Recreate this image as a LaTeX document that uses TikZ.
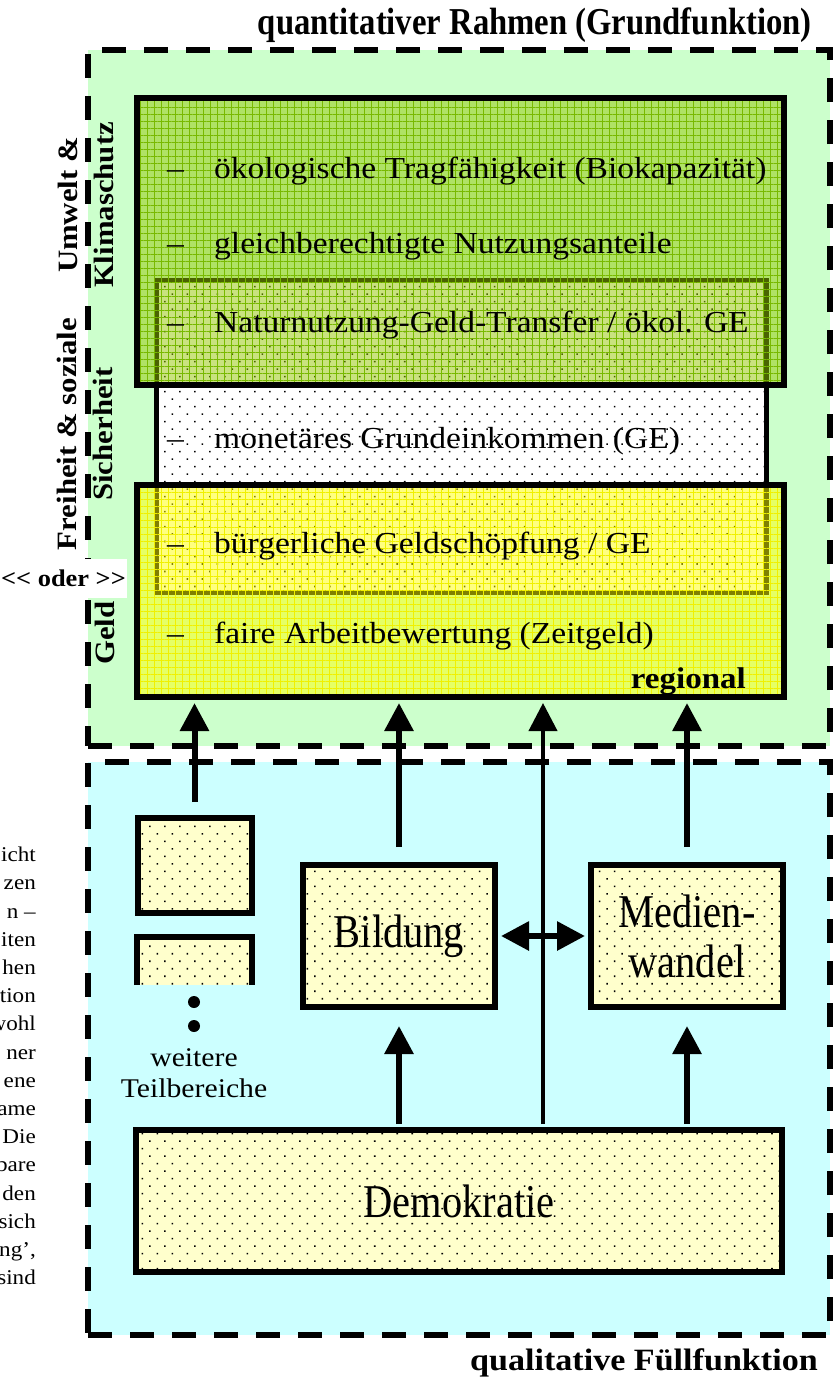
\documentclass[tikz,border=0pt]{standalone}
\usepackage{fontspec}
\setmainfont{Liberation Serif}[FakeStretch=1.1]
\newfontfamily\narrowfont{Liberation Serif}[FakeStretch=0.86]
\usepackage{tikz}
\usetikzlibrary{
	arrows.meta,
	patterns.meta,
	positioning
}
\definecolor{ZoneGreen}{RGB}{204,255,204}
\definecolor{ZoneCyan}{RGB}{204,255,255}
\definecolor{EcoGreen}{RGB}{148,198,0}
\definecolor{EcoGrid}{RGB}{120,185,0}
\definecolor{MoneyYellow}{RGB}{255,255,0}
\definecolor{MoneyGrid}{RGB}{240,240,0}
\definecolor{Cream}{RGB}{255,255,204}
\newcommand\bigtext{\narrowfont\fontsize{47}{50}\selectfont}

\begin{document}
\begin{tikzpicture}[x=1pt, y=-1pt,
		zone/.style={draw, line width=6pt, dash pattern=on 24pt off 18pt, inner sep=0pt},
		ecobox/.style={draw, line width=6pt, inner sep=0pt, fill opacity=0.5,
			preaction={fill=EcoGreen, fill opacity=0.5},
			pattern={Hatch[distance=7pt, line width=0.8pt]}, pattern color=EcoGrid},
		moneybox/.style={draw, line width=6pt, inner sep=0pt, fill opacity=0.5,
			preaction={fill=MoneyYellow, fill opacity=0.5},
			pattern={Hatch[distance=7pt, line width=0.8pt]}, pattern color=MoneyGrid},
		gebox/.style={draw, line width=5pt, inner sep=0pt, preaction={fill=white},
			pattern={Dots[distance=10.6pt, angle=45, radius=1.1pt]}, pattern color=black},
		partfill/.style={inner sep=0pt, preaction={fill=Cream},
			pattern={Dots[distance=10.6pt, angle=45, radius=1.1pt]}, pattern color=black},
		partbox/.style={partfill, draw, line width=6pt},
		item/.style={anchor=base west, inner sep=0pt, font=\fontsize{30.5}{34}\selectfont},
		sidelabel/.style={rotate=90, align=center, inner sep=0pt, font=\bfseries\fontsize{28}{36}\selectfont},
		uparrow/.style={line width=6pt, -{Triangle[length=28pt, width=28pt]}},
		biarrow/.style={line width=6pt, {Triangle[length=28pt, width=28pt]}-{Triangle[length=28pt, width=28pt]}}
	]
	\useasboundingbox (0,0) rectangle (840,1381);
	
	% the two zones
	\node[zone, fill=ZoneGreen, minimum width=742pt, minimum height=696pt] (rahmen) at (459,398) {};
	\node[zone, fill=ZoneCyan, minimum width=742pt, minimum height=573pt] (fuell) at (459,1048.5) {};
	\node[anchor=east, inner sep=0pt, font=\narrowfont\bfseries\fontsize{38}{44}\selectfont] (rahmen title) at (812,25) {quantitativer Rahmen (Grundfunktion)};
	\node[anchor=east, inner sep=0pt, font=\bfseries\fontsize{31}{36}\selectfont] (fuell title) at (818,1363) {qualitative Füllfunktion};
	
	% quantitative part
	\node[gebox, minimum width=610pt, minimum height=312pt] (ge) at (461,436.5) {};
	\node[ecobox, minimum width=647pt, minimum height=287pt] (eco) at (460.5,241.5) {};
	\node[moneybox, minimum width=647pt, minimum height=212pt] (money) at (460.5,591) {};
	\foreach \y/\txt [count=\i] in {178/{ökologische Tragfähigkeit (Biokapazität)},
		253/{gleichberechtigte Nutzungsanteile},
		332/{Naturnutzung-Geld-Transfer / ökol. GE},
		448/{monetäres Grundeinkommen (GE)},
		553/{bürgerliche Geldschöpfung / GE},
		643/{faire Arbeitbewertung (Zeitgeld)}}
		\node[item] (item\i) at (167,\y) {\makebox[47pt][l]{–}\txt};
	\node[anchor=base east, inner sep=0pt, font=\bfseries\fontsize{30}{34}\selectfont] (regional) at (746,688) {regional};
	
	\node[sidelabel] (eco label) at (86,205) {Umwelt \&\\Klimaschutz};
	\node[sidelabel] (social label) at (85,434) {Freiheit \& soziale\\Sicherheit};
	\node[sidelabel] (money label) at (105,633) {Geld};
	\node[fill=white, inner sep=0pt, minimum width=127pt, minimum height=39pt,
		font=\bfseries\fontsize{24}{28}\selectfont] (oder) at (63.5,578) {<\kern0pt< oder >\kern0pt>};
	
	% qualitative part
	\node[partbox, minimum width=114pt, minimum height=95pt] (teil1) at (194.5,865.5) {};
	\node[partfill, minimum width=114pt, minimum height=48pt] (teil2) at (194.5,961) {};
	\draw[line width=6pt] (teil2.south west) -- (teil2.north west) -- (teil2.north east) -- (teil2.south east);
	\node[circle, fill, inner sep=0pt, minimum size=12pt] (dot1) at (194,1002) {};
	\node[circle, fill, inner sep=0pt, minimum size=12pt] (dot2) at (194,1026) {};
	\node[align=center, inner sep=0pt, font=\fontsize{27}{31}\selectfont] (weitere) at (194,1073) {weitere\\Teilbereiche};
	
	\node[partbox, minimum width=192pt, minimum height=142pt, font=\bigtext] (bildung) at (399,936) {Bildung};
	\node[partbox, minimum width=192pt, minimum height=142pt, align=center, font=\bigtext] (medien) at (687,936) {Medien-\\wandel};
	\node[partbox, minimum width=646pt, minimum height=142pt, font=\bigtext] (demo) at (459,1201) {Demokratie};
	
	\node[anchor=north east, align=right, inner sep=0pt, font=\fontsize{21}{28.2}\selectfont] (fragment) at (36,847)
		{icht\\zen\\n –\\iten\\hen\\tion\\wohl\\ner\\ene\\ame\\Die\\bare\\den\\sich\\ng',\\sind};
	
	% arrows
	\coordinate (axis) at (543,0);
	\draw[uparrow, shorten <=13pt, shorten >=3pt] (teil1.north) -- (teil1.north |- money.south);
	\draw[uparrow, shorten <=15pt, shorten >=3pt] (bildung.north) -- (bildung.north |- money.south);
	\draw[uparrow, shorten <=15pt, shorten >=3pt] (medien.north) -- (medien.north |- money.south);
	\draw[uparrow, line width=4pt, shorten <=3pt, shorten >=3pt] (demo.north -| axis) -- (money.south -| axis);
	\draw[uparrow, shorten <=3pt, shorten >=16pt] (demo.north -| bildung.south) -- (bildung.south);
	\draw[uparrow, shorten <=3pt, shorten >=16pt] (demo.north -| medien.south) -- (medien.south);
	\draw[biarrow, shorten <=3pt, shorten >=3pt] (bildung.east) -- (medien.west);
\end{tikzpicture}
\end{document}
